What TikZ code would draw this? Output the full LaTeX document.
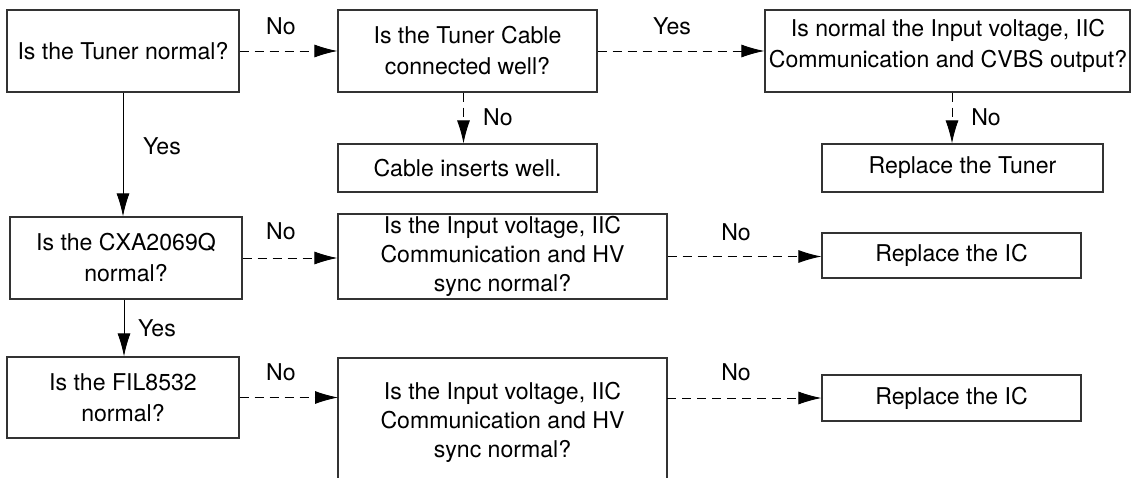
\documentclass[tikz,border=0pt]{standalone}
\usepackage{fontspec}
\setmainfont{TeX Gyre Heros}
\usetikzlibrary{arrows.meta,calc}
\newcommand\dfont{\fontsize{23.1}{31}\selectfont}
\newcommand\dfontb{\fontsize{23.1}{29}\selectfont}
\begin{document}
\begin{tikzpicture}[x=1pt,y=-1pt,
  box/.style={draw=black!80, line width=1.2pt, inner sep=0pt, align=center, font=\dfont},
  txt/.style={inner sep=0pt, align=center, font=\dfont},
  lbl/.style={inner sep=0pt, font=\dfont},
  arr/.style={-{Latex[length=23pt,width=13pt]}, line width=0.9pt},
  dsh/.style={arr, dash pattern=on 9pt off 6pt}]
\useasboundingbox[fill=white] (0,0) rectangle (1131,478);
% boxes
\node[box, minimum width=232pt, minimum height=82pt] (tuner) at (123,51) {Is the Tuner normal?};
\node[box, minimum width=259pt, minimum height=82pt] (cable) at (467.5,51) {Is the Tuner Cable\\connected well?};
\node[box, minimum width=365pt, minimum height=82pt] (cvbs) at (947.5,51) {};
\node[txt] (cvbst) at (948,46) {Is normal the Input voltage, IIC\\Communication and CVBS output?};
\node[box, minimum width=259pt, minimum height=48pt] (cablein) at (467.5,168) {Cable inserts well.};
\node[box, minimum width=281pt, minimum height=48pt] (reptuner) at (962.5,168) {Replace the Tuner};
\node[box, minimum width=232pt, minimum height=82pt] (cxa) at (126,258) {Is the CXA2069Q\\normal?};
\node[box, minimum width=329pt, minimum height=85pt, font=\dfontb] (hv1) at (502.5,256.5) {Is the Input voltage, IIC\\Communication and HV\\sync normal?};
\node[box, minimum width=259pt, minimum height=45pt] (repic1) at (951.5,255.5) {Replace the IC};
\node[box, minimum width=232pt, minimum height=81pt] (fil) at (123,397.5) {Is the FIL8532\\normal?};
\node[txt, font=\dfontb] (hv2) at (502.5,422) {Is the Input voltage, IIC\\Communication and HV\\sync normal?};
\coordinate (hvsw) at (338,478);
\coordinate (hvnw) at (338,358);
\coordinate (hvne) at (667,358);
\coordinate (hvse) at (667,478);
\draw[draw=black!80, line width=1.2pt] (hvsw) -- (hvnw) -- (hvne) -- (hvse);
\node[box, minimum width=259pt, minimum height=46pt] (repic2) at (951.5,398) {Replace the IC};
% connectors
\draw[dsh] (tuner.east) -- (cable.west);
\draw[dsh] (cable.east) -- (cvbs.west);
\coordinate (cb) at ([xshift=-4pt]cable.south);
\draw[dsh] (cb) -- (cb |- cablein.north);
\coordinate (cv) at ([xshift=4.5pt]cvbs.south);
\draw[dsh] (cv) -- (cv |- reptuner.north);
\draw[arr] (tuner.south) -- (tuner.south |- cxa.north);
\draw[dsh] (cxa.east) -- (cxa.east -| hv1.west);
\draw[dsh] (hv1.east) -- (hv1.east -| repic1.west);
\coordinate (cx) at ([xshift=-2pt]cxa.south);
\draw[arr] (cx) -- (cx |- fil.north);
\draw[dsh] (fil.east) -- (fil.east -| hvnw);
\draw[dsh] (repic2.west -| hvne) -- (repic2.west);
% labels
\node[lbl] (l1) at (281,26) {No};
\node[lbl] (l2) at (672,26) {Yes};
\node[lbl] (l3) at (498,117) {No};
\node[lbl] (l4) at (986,117) {No};
\node[lbl] (l5) at (162,146) {Yes};
\node[lbl] (l6) at (281,231) {No};
\node[lbl] (l7) at (736,232) {No};
\node[lbl] (l8) at (157,328) {Yes};
\node[lbl] (l9) at (281,372) {No};
\node[lbl] (l10) at (736,372) {No};
\end{tikzpicture}
\end{document}
